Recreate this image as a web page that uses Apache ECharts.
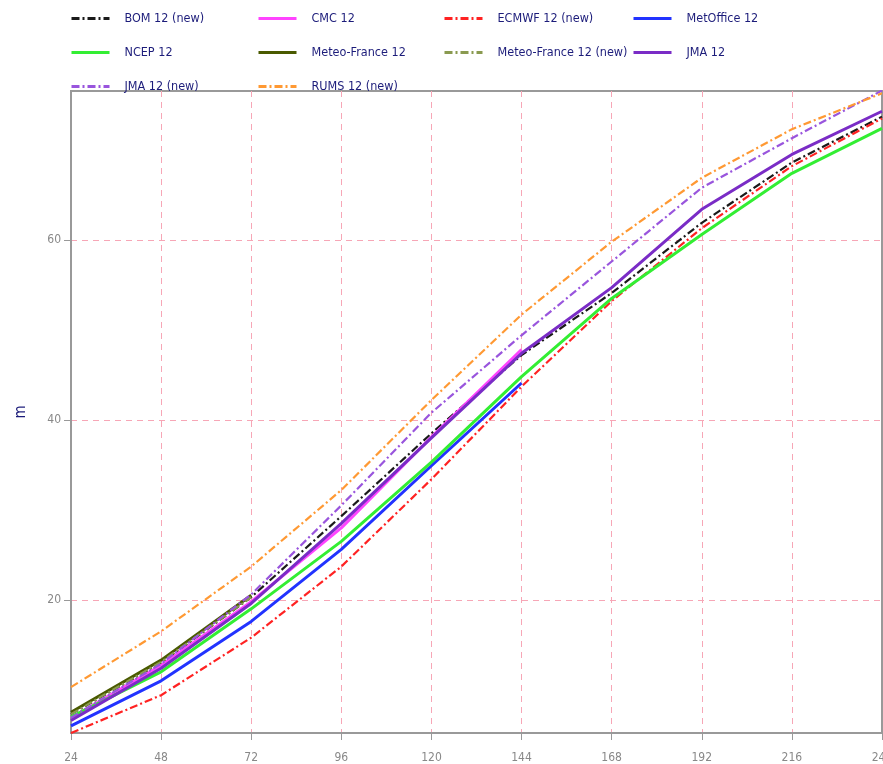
<!DOCTYPE html>
<html>
<head>
<meta charset="utf-8">
<script src="https://cdn.jsdelivr.net/npm/echarts@6/dist/echarts.min.js"></script>
<style>
html,body{margin:0;padding:0;background:#fff;}
#chart{width:883px;height:764px;}
</style>
</head>
<body>
<div id="chart"></div>
<script>
// ---- data ----
const hours = [24, 48, 72, 96, 120, 144, 168, 192, 216, 240];
const xTicks = [24, 48, 72, 96, 120, 144, 168, 192, 216, 240];
const yTicks = [20, 40, 60];

const bom            = [7.3, 13.0, 20.3, 29.3, 38.5, 47.2, 54.1, 61.9, 68.6, 73.7];
const cmc            = [6.9, 12.7, 19.8, 28.0, 38.1, 47.8];
const ecmwf          = [5.2, 9.4, 15.8, 23.7, 33.4, 43.7, 53.2, 61.3, 68.2, 73.5];
const metoffice      = [6.0, 11.0, 17.6, 25.6, 34.9, 44.1];
const ncep           = [7.0, 12.0, 19.0, 26.5, 35.3, 44.8, 53.5, 60.6, 67.4, 72.4];
const meteoFrance    = [7.5, 13.3, 20.5];
const meteoFranceNew = [7.3, 13.1, 20.3];
const jma            = [6.6, 12.4, 19.6, 28.5, 38.0, 47.4, 54.7, 63.4, 69.5, 74.3];
const jmaNew         = [6.9, 12.9, 20.6, 30.5, 40.8, 49.4, 57.6, 65.8, 71.3, 76.6];
const rums           = [10.3, 16.5, 23.7, 32.2, 42.2, 51.7, 59.8, 66.9, 72.3, 76.3];

const names = {
  bom: 'BOM 12 (new)', cmc: 'CMC 12', ecmwf: 'ECMWF 12 (new)', metoffice: 'MetOffice 12',
  ncep: 'NCEP 12', mf: 'Meteo-France 12', mfNew: 'Meteo-France 12 (new)', jma: 'JMA 12',
  jmaNew: 'JMA 12 (new)', rums: 'RUMS 12 (new)'
};

const FONT = "'Liberation Sans Narrow', 'DejaVu Sans Condensed', 'Liberation Sans', sans-serif";
const NAVY = '#1c1c7a';
const DASHDOT = [8, 3, 2, 3];

function mk(name, vals, color, dashed) {
  return {
    name: name,
    type: 'line',
    symbol: 'none',
    showSymbol: false,
    animation: false,
    data: vals.map((v, i) => [hours[i], v]),
    lineStyle: dashed
      ? { color: color, width: 2.2, type: DASHDOT }
      : { color: color, width: 3, type: 'solid' },
    itemStyle: { color: color, opacity: 0 }
  };
}

const series = [
  mk(names.bom, bom, '#1a1a1a', true),
  mk(names.cmc, cmc, '#ff44ff', false),
  mk(names.ecmwf, ecmwf, '#ff2222', true),
  mk(names.metoffice, metoffice, '#2233ff', false),
  mk(names.ncep, ncep, '#33ee33', false),
  mk(names.mf, meteoFrance, '#4a5a00', false),
  mk(names.mfNew, meteoFranceNew, '#8a9a50', true),
  mk(names.jma, jma, '#7a2cc6', false),
  mk(names.jmaNew, jmaNew, '#9955dd', true),
  mk(names.rums, rums, '#ff9933', true)
];

function legendCol(left, data) {
  return {
    orient: 'vertical',
    left: left,
    top: 12,
    itemWidth: 38,
    itemHeight: 16,
    itemGap: 21,
    padding: 0,
    data: data,
    itemStyle: { opacity: 0 },
    lineStyle: { width: 3 },
    textStyle: { color: NAVY, fontSize: 12.5, fontFamily: FONT, padding: [0, 0, 0, 10] }
  };
}

const chart = echarts.init(document.getElementById('chart'), null, { renderer: 'canvas' });
chart.setOption({
  backgroundColor: '#fff',
  animation: false,
  legend: [
    legendCol(70, [names.bom, names.ncep, names.jmaNew]),
    legendCol(257, [names.cmc, names.mf, names.rums]),
    legendCol(443, [names.ecmwf, names.mfNew]),
    legendCol(632, [names.metoffice, names.jma])
  ],
  grid: {
    left: 71, right: 1, top: 91, bottom: 31,
    outerBoundsMode: 'none',
    containLabel: false,
    show: true, borderColor: '#999', borderWidth: 2, backgroundColor: 'transparent'
  },
  xAxis: {
    type: 'value',
    min: 24, max: 240, interval: 24,
    axisLine: { lineStyle: { color: '#999', width: 2 } },
    axisTick: { show: true, length: 7, lineStyle: { color: '#999', width: 1 } },
    axisLabel: { color: '#888', fontSize: 12, fontFamily: FONT, margin: 19,
      customValues: xTicks },
    splitLine: { show: true, showMinLine: false, showMaxLine: false,
      lineStyle: { color: '#f7a6b6', width: 1, type: [6, 5] } }
  },
  yAxis: {
    type: 'value',
    min: 5.2, max: 76.55,
    splitNumber: 4,
    name: 'm',
    nameLocation: 'middle',
    nameGap: 42,
    nameTextStyle: { color: NAVY, fontSize: 15, fontFamily: FONT },
    axisLine: { show: true, lineStyle: { color: '#999', width: 2 } },
    axisTick: { show: true, length: 7, lineStyle: { color: '#999', width: 1 }, customValues: yTicks },
    axisLabel: { color: '#888', fontSize: 12, fontFamily: FONT, margin: 10, customValues: yTicks },
    splitLine: { show: true, lineStyle: { color: '#f7a6b6', width: 1, type: [6, 5] } }
  },
  series: series
});
</script>
</body>
</html>
